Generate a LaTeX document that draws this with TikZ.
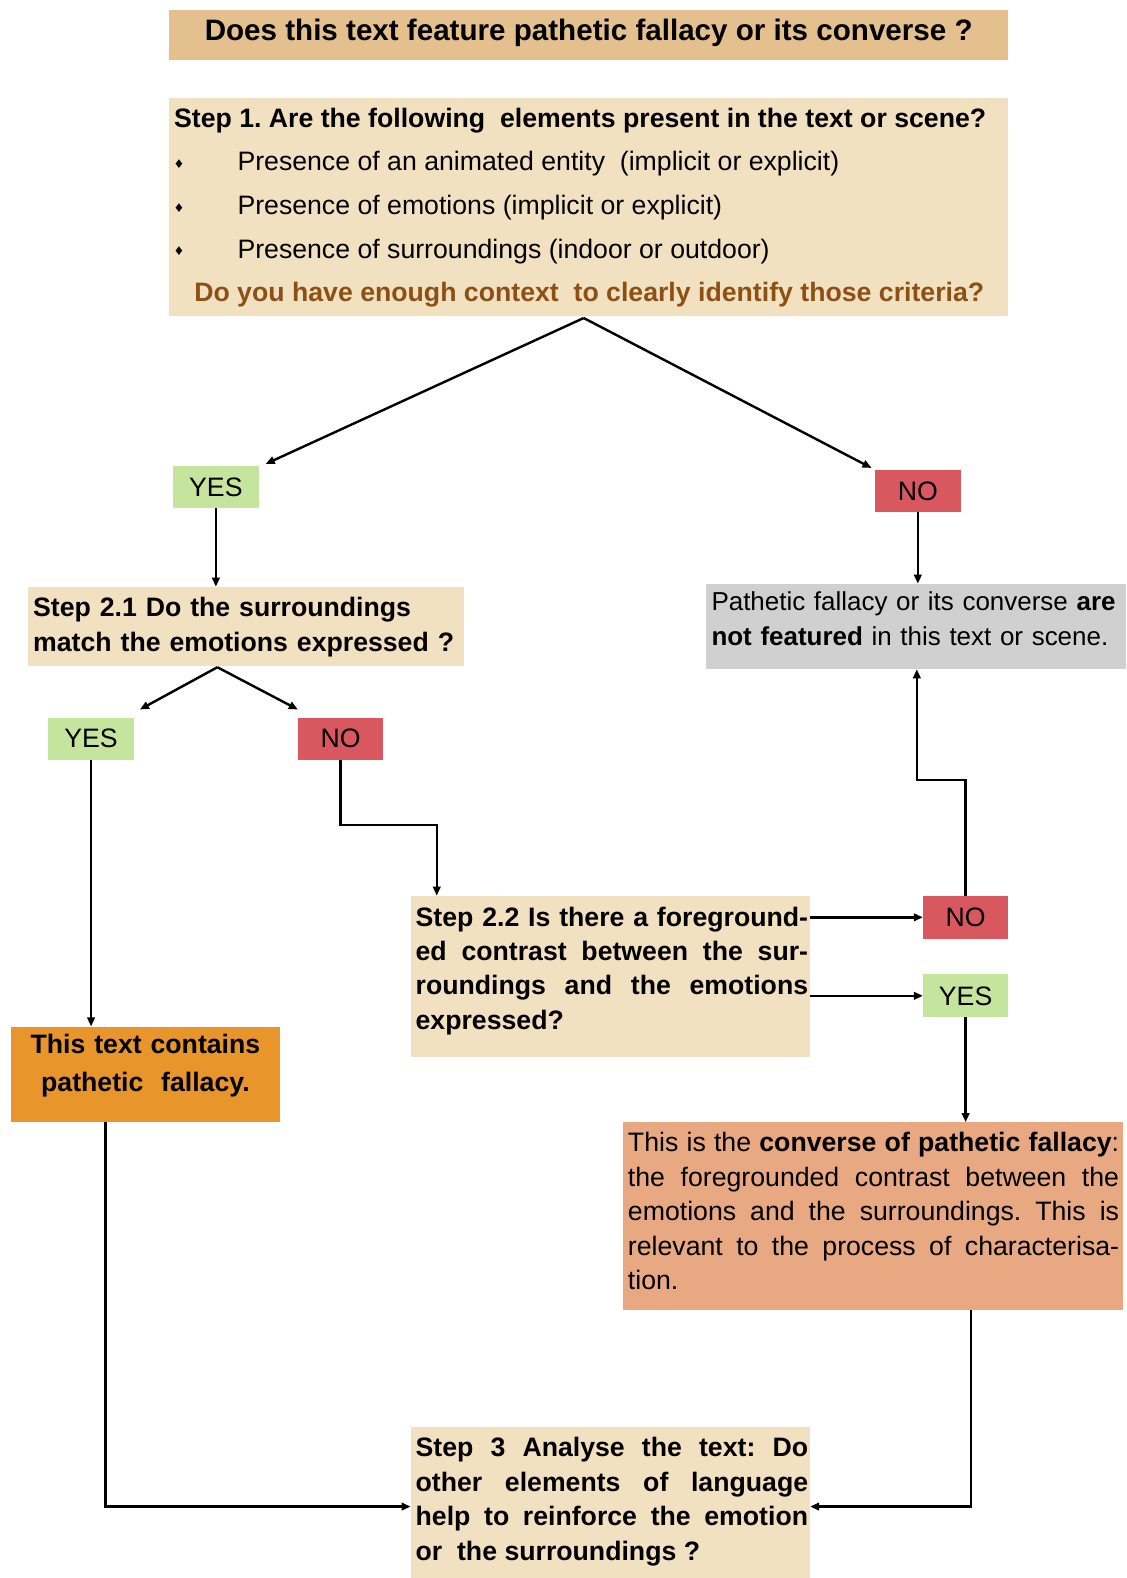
\documentclass[tikz,border=0pt]{standalone}
\usepackage{fontspec}
\setmainfont{Liberation Sans}
\newfontfamily\bulletfont{DejaVu Sans}
\usetikzlibrary{arrows.meta,calc}
\definecolor{titletan}{RGB}{227,192,141}
\definecolor{beige}{RGB}{242,225,193}
\definecolor{yesgreen}{RGB}{197,228,157}
\definecolor{nored}{RGB}{217,88,96}
\definecolor{greybox}{RGB}{208,208,208}
\definecolor{orangebox}{RGB}{232,149,44}
\definecolor{salmon}{RGB}{232,168,130}
\definecolor{brownq}{RGB}{140,80,20}
\newcommand{\topstrut}{\rule{0pt}{22pt}}
\frenchspacing
\begin{document}
\begin{tikzpicture}[x=1pt,y=-1pt,
  box/.style={rectangle,inner sep=0pt,outer sep=0pt,anchor=north west,draw=none},
  txt/.style={inner sep=0pt,outer sep=0pt,font=\fontsize{26.5}{34}\selectfont},
  para/.style={txt,anchor=north west},
  jpara/.style={para,align=justify,execute at begin node={\frenchspacing\hyphenpenalty=10000\exhyphenpenalty=10000\tolerance=10000\hbadness=10000}},
  yesbox/.style={box,fill=yesgreen,minimum width=85pt,minimum height=42pt,font=\fontsize{26.5}{34}\selectfont},
  nobox/.style={box,fill=nored,minimum width=86pt,minimum height=42pt,font=\fontsize{26.5}{34}\selectfont},
  conn/.style={line width=2.4pt,-{Triangle[length=9pt,width=7.5pt]}},
  bul/.style={inner sep=0pt,font=\bulletfont\fontsize{12}{12}\selectfont}]
\fill[white] (0,0) rectangle (1119,1568);
\useasboundingbox (0,0) rectangle (1119,1568);

% title
\node[box,fill=titletan,minimum width=834pt,minimum height=50pt] (title) at (168,10) {};
\node[txt,anchor=base,font=\fontsize{29.4}{34}\selectfont\bfseries] (titletxt) at (585,40.5)
  {Does this text feature pathetic fallacy or its converse ?};

% step 1
\node[box,fill=beige,minimum width=834pt,minimum height=217pt] (s1) at (168,97) {};
\node[txt,anchor=base west,font=\fontsize{26.5}{34}\selectfont\bfseries] (s1h) at (173,126.5)
  {Step 1. Are the following\ \ elements present in the text or scene?};
\node[bul] (b1) at (178,163) {♦};
\node[bul] (b2) at (178,207) {♦};
\node[bul] (b3) at (178,250) {♦};
\node[txt,anchor=base west] (s1a) at (236,169.5) {Presence of an animated entity\ \ (implicit or explicit)};
\node[txt,anchor=base west] (s1b) at (236,213.5) {Presence of emotions (implicit or explicit)};
\node[txt,anchor=base west] (s1c) at (236,256.5) {Presence of surroundings (indoor or outdoor)};
\node[txt,anchor=base,font=\fontsize{26.5}{34}\selectfont\bfseries,text=brownq] (s1q) at (585.5,299.5)
  {Do you have enough context\ \ to clearly identify those criteria?};

% first decision
\node[yesbox] (yes1) at (172,463) {YES};
\node[nobox] (no1) at (869,467) {NO};

% step 2.1
\node[box,fill=beige,minimum width=433pt,minimum height=79pt] (s21) at (28,583) {};
\node[para,text width=428pt,align=left,font=\fontsize{26.5}{35}\selectfont\bfseries] (s21txt) at (33,590.5)
  {\topstrut Step 2.1 Do the surroundings\\ match the emotions expressed ?};

\node[yesbox] (yes2) at (48,713) {YES};
\node[nobox,minimum width=85pt] (no2) at (296,713) {NO};

% grey box
\node[box,fill=greybox,minimum width=417pt,minimum height=85pt] (grey) at (702,580) {};
\node[para,text width=440pt,align=left,font=\fontsize{25.8}{35}\selectfont] (greytxt) at (707,584.5)
  {\topstrut Pathetic fallacy or its converse \textbf{are}\\ \textbf{not featured} in this text or scene.};

% orange box
\node[box,fill=orangebox,minimum width=267pt,minimum height=95pt] (orange) at (11,1020) {};
\node[txt,anchor=north,text width=262pt,align=center,font=\fontsize{26.5}{38}\selectfont\bfseries] (orangetxt) at (144.5,1024.5)
  {\topstrut This text contains\\ pathetic\ \ fallacy.};

% step 2.2
\node[box,fill=beige,minimum width=397pt,minimum height=160pt] (s22) at (408,890) {};
\node[jpara,text width=390pt,font=\fontsize{26.5}{34}\selectfont\bfseries] (s22txt) at (413,898.5)
  {\topstrut Step 2.2 Is there a foreground-\linebreak ed contrast between the sur-\linebreak roundings and the emotions\linebreak expressed?};

\node[nobox,minimum width=85pt,minimum height=43pt] (no3) at (917,890) {NO};
\node[yesbox,minimum height=43pt] (yes3) at (917,968) {YES};

% converse box
\node[box,fill=salmon,minimum width=497pt,minimum height=187pt] (conv) at (619,1115) {};
\node[jpara,text width=488pt,font=\fontsize{26.5}{34.2}\selectfont] (convtxt) at (624,1122.5)
  {\topstrut This is the \textbf{converse of pathetic fallacy}:\linebreak the foregrounded contrast between the\linebreak emotions and the surroundings. This is\linebreak relevant to the process of characterisa-\linebreak tion.};

% step 3
\node[box,fill=beige,minimum width=397pt,minimum height=150pt] (s3) at (408,1418) {};
\node[jpara,text width=390pt,font=\fontsize{26.5}{34.3}\selectfont\bfseries] (s3txt) at (413,1425.5)
  {\topstrut Step 3 Analyse the text: Do\linebreak other elements of language\linebreak help to reinforce the emotion\linebreak or\ \ the surroundings~?};

% connectors
\coordinate (fork1) at (580,316);
\coordinate (fork2) at (216,663);
\coordinate (c2) at (434,820);
\coordinate (c3) at (911,775);
\coordinate (c4) at (965,1497);
\coordinate (c5) at (105,1497);

\draw[conn] (fork1) -- ($(yes1.north east)+(7,-2)$);
\draw[conn] (fork1) -- ($(no1.north west)+(-3,-2)$);
\draw[conn] (yes1.south) -- (yes1.south |- s21.north);
\draw[conn] (fork2) -- ($(yes2.north east)+(6,-8)$);
\draw[conn] (fork2) -- ($(no2.north west)+(0,-8)$);
\draw[conn] (no1.south) -- (no1.south |- grey.north);
\draw[conn] (yes2.south) -- (yes2.south |- orange.north);
\draw[conn] (no2.south) |- (c2) -- (c2 |- s22.north);
\draw[conn] (s22.east |- no3.west) -- (no3.west);
\draw[conn] (s22.east |- yes3.west) -- (yes3.west);
\draw[conn] (no3.north) |- (c3) -- (c3 |- grey.south);
\draw[conn] (yes3.south) -- (yes3.south |- conv.north);
\draw[conn] (c4 |- conv.south) -- (c4) -- (c4 -| s3.east);
\draw[conn] (c5 |- orange.south) -- (c5) -- (c5 -| s3.west);
\end{tikzpicture}
\end{document}
